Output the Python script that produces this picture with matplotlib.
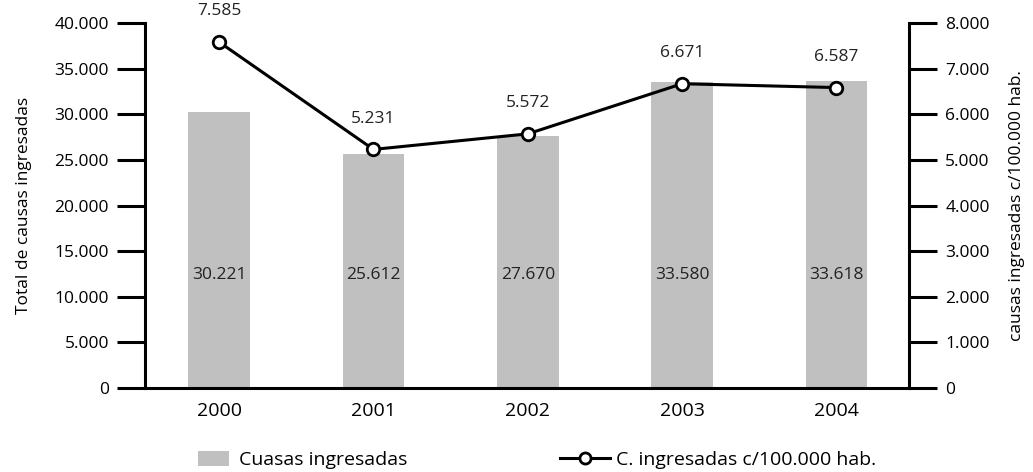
import matplotlib
matplotlib.use("Agg")
import matplotlib.pyplot as plt
from matplotlib.lines import Line2D
from matplotlib.patches import Patch
from matplotlib.ticker import FuncFormatter

years = ["2000", "2001", "2002", "2003", "2004"]
causas = [30221, 25612, 27670, 33580, 33618]
tasa = [7585, 5231, 5572, 6671, 6587]
left_ticks = [0, 5000, 10000, 15000, 20000, 25000, 30000, 35000, 40000]
right_ticks = [0, 1000, 2000, 3000, 4000, 5000, 6000, 7000, 8000]

plt.rcParams['font.family'] = ['Open Sans', 'DejaVu Sans']

def fmt(v, pos=None):
    return f"{int(v):,}".replace(",", ".")

fig = plt.figure(figsize=(10.33, 4.72), dpi=100)
ax = fig.add_axes([0.1404, 0.178, 0.7396, 0.773])
ax2 = ax.twinx()

x = list(range(len(years)))
ax.bar(x, causas, width=0.4, color="#c0c0c0", zorder=1)
for xi, v in zip(x, causas):
    ax.text(xi, 12400, fmt(v), ha="center", va="center", fontsize=12.5, color="#222222")

ax2.plot(x, tasa, color="black", lw=2.2, marker="o", markersize=9,
         markerfacecolor="white", markeredgecolor="black", markeredgewidth=2, zorder=3)
for xi, v in zip(x, tasa):
    ax2.annotate(fmt(v), (xi, v), xytext=(0, 22), textcoords="offset points",
                 ha="center", va="center", fontsize=12.5, color="#222222")

ax.set_xlim(-0.48, 4.47)
ax.set_ylim(0, 40000)
ax2.set_ylim(0, 8000)
ax.set_xticks(x)
ax.set_xticklabels(years)
ax.set_yticks(left_ticks)
ax2.set_yticks(right_ticks)
ax.yaxis.set_major_formatter(FuncFormatter(fmt))
ax2.yaxis.set_major_formatter(FuncFormatter(fmt))

for a in (ax, ax2):
    a.spines['top'].set_visible(False)
    for s in a.spines.values():
        s.set_linewidth(2.2)
ax.spines['right'].set_visible(False)
ax2.spines['left'].set_visible(False)
ax2.spines['bottom'].set_visible(False)

ax.tick_params(axis='y', length=20, width=2.2, labelsize=12.5, pad=6, colors="black")
ax2.tick_params(axis='y', length=20, width=2.2, labelsize=12.5, pad=6, colors="black")
ax.tick_params(axis='x', length=0, labelsize=14, pad=10)

ax.set_ylabel("Total de causas ingresadas", fontsize=12.5, labelpad=16)
ax2.set_ylabel("causas ingresadas c/100.000 hab.", fontsize=12.5, labelpad=14)

handles = [Patch(facecolor="#c0c0c0", edgecolor="none"),
           Line2D([0], [0], color="black", lw=2.2, marker="o", markersize=8,
                  markerfacecolor="white", markeredgewidth=2)]
fig.legend(handles[:1], ["Cuasas ingresadas"], loc="center left",
           bbox_to_anchor=(0.192, 0.026), frameon=False, fontsize=14,
           handlelength=1.6, handleheight=0.8, handletextpad=0.5,
           borderaxespad=0, borderpad=0)
fig.legend(handles[1:], ["C. ingresadas c/100.000 hab."], loc="center left",
           bbox_to_anchor=(0.542, 0.026), frameon=False, fontsize=14,
           handlelength=2.6, handletextpad=0.3,
           borderaxespad=0, borderpad=0)

fig.savefig("out.png", dpi=100)
